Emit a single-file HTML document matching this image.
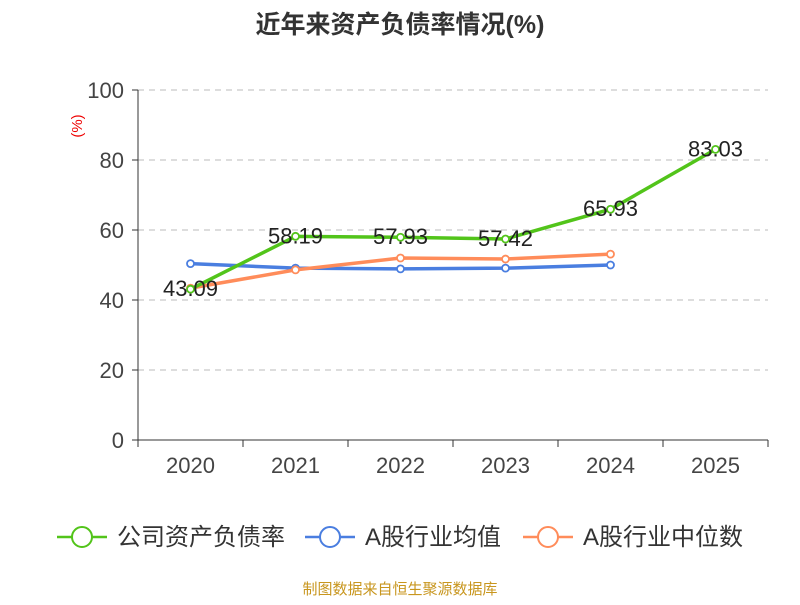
<!DOCTYPE html>
<html><head><meta charset="utf-8"><style>
body{margin:0;background:#fff;}
svg text{font-family:"Liberation Sans","Noto Sans CJK SC",sans-serif;}
</style></head><body>
<svg id="chart" width="800" height="600" xmlns="http://www.w3.org/2000/svg">
<text x="400" y="33" text-anchor="middle" font-size="25" font-weight="bold" fill="#333">近年来资产负债率情况(%)</text>
<text x="82" y="126" font-size="15" fill="#e00" transform="rotate(-90 82 126)" text-anchor="middle">(%)</text>
<g id="grid"></g><g id="axes"></g><g id="series"></g>
<g>
<g><line x1="57" y1="537" x2="107" y2="537" stroke="#52c41a" stroke-width="2.5"/><circle cx="82" cy="537" r="10" fill="#fff" stroke="#52c41a" stroke-width="2"/><text x="117" y="545" font-size="24" fill="#333">公司资产负债率</text></g>
<g><line x1="305" y1="537" x2="355" y2="537" stroke="#4a7ee0" stroke-width="2.5"/><circle cx="330" cy="537" r="10" fill="#fff" stroke="#4a7ee0" stroke-width="2"/><text x="365" y="545" font-size="24" fill="#333">A股行业均值</text></g>
<g><line x1="523" y1="537" x2="573" y2="537" stroke="#ff8c5a" stroke-width="2.5"/><circle cx="548" cy="537" r="10" fill="#fff" stroke="#ff8c5a" stroke-width="2"/><text x="583" y="545" font-size="24" fill="#333">A股行业中位数</text></g>
</g>
<text x="400" y="594" text-anchor="middle" font-size="15" fill="#c8961e">制图数据来自恒生聚源数据库</text>
</svg>
<script>
const categories=["2020","2021","2022","2023","2024","2025"];
const companyValues=[43.09,58.19,57.93,57.42,65.93,83.03];
const industryAvg=[50.4,49.1,48.9,49.1,50.0];
const industryMedian=[43.4,48.6,52.0,51.7,53.1];
const yTicks=[0,20,40,60,80,100];
const NS="http://www.w3.org/2000/svg";
const L=138,R=768,T=90,B=440;
const step=(R-L)/categories.length;
const x=i=>L+step*(i+0.5);
const y=v=>B-(v/100)*(B-T);
function mk(tag,attrs,parent){const e=document.createElementNS(NS,tag);for(const k in attrs)e.setAttribute(k,attrs[k]);parent.appendChild(e);return e;}
const grid=document.getElementById('grid'),axes=document.getElementById('axes'),series=document.getElementById('series');
yTicks.forEach(t=>{
 if(t>0){const g=mk('line',{x1:L,x2:R,y1:y(t),y2:y(t),stroke:'#bbb','stroke-dasharray':'6,5'},grid);
 
 }
 const tk=mk('line',{x1:L-6,x2:L,y1:y(t),y2:y(t),stroke:'#333'},axes);
 
 
 const lb=mk('text',{x:L-14,y:y(t)+8,'text-anchor':'end','font-size':22,fill:'#444'},axes);lb.textContent=t;
 
 
});
const ya=mk('line',{x1:L,x2:L,y1:T,y2:B,stroke:'#333'},axes);


const xa=mk('line',{x1:L,x2:R,y1:B,y2:B,stroke:'#333'},axes);


for(let i=0;i<=categories.length;i++){const t=mk('line',{x1:L+step*i,x2:L+step*i,y1:B,y2:B+7,stroke:'#333'},axes);
 
 }
categories.forEach((c,i)=>{const t=mk('text',{x:x(i),y:B+33,'text-anchor':'middle','font-size':22,fill:'#444'},axes);t.textContent=c;
 
 });
function drawLine(vals,color,name,labels){
 const g=mk('g',{},series);
 
 
 mk('polyline',{points:vals.map((v,i)=>x(i)+','+y(v)).join(' '),fill:'none',stroke:color,'stroke-width':3.5},g);
 vals.forEach((v,i)=>{const c=mk('circle',{cx:x(i),cy:y(v),r:3.5,fill:'#fff',stroke:color,'stroke-width':1.8},g);
  
  
  if(labels){const t=mk('text',{x:x(i),y:y(v)+7,'text-anchor':'middle','font-size':22,fill:'#222'},g);t.textContent=v.toFixed(2);
   
   }
 });
}
drawLine(industryAvg,'#4a7ee0','series-industry-avg',false);
drawLine(industryMedian,'#ff8c5a','series-industry-median',false);
drawLine(companyValues,'#52c41a','series-company',true);
</script>
</body></html>
